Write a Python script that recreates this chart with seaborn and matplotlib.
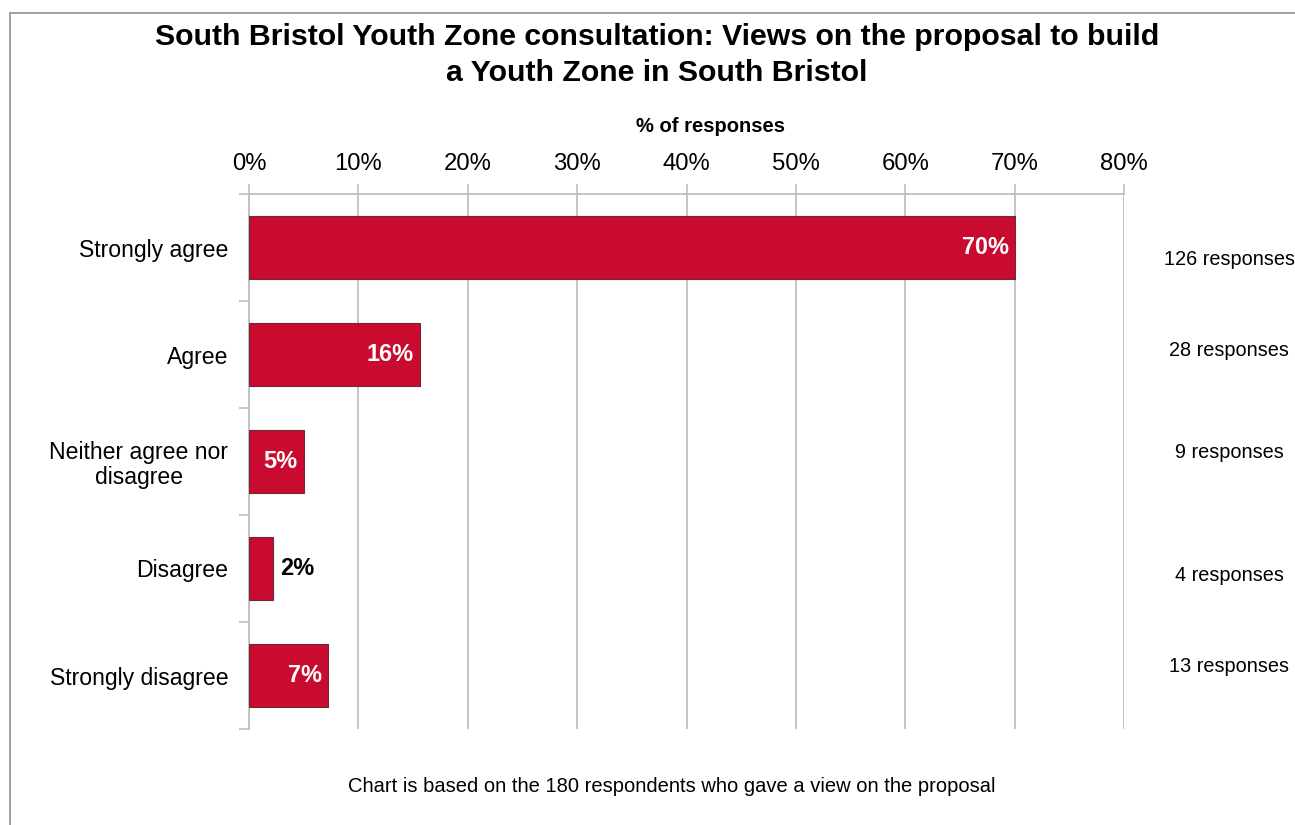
import matplotlib
matplotlib.use("Agg")
import matplotlib.pyplot as plt
from matplotlib.patches import Rectangle
from matplotlib.ticker import FixedLocator, PercentFormatter
import seaborn as sns
import pandas as pd

# Survey results
categories = ["Strongly agree", "Agree", "Neither agree nor\ndisagree",
              "Disagree", "Strongly disagree"]
responses = [126, 28, 9, 4, 13]
percent = [70.0, 15.6, 5.0, 2.2, 7.2]
total_respondents = 180

# Vertical nudges for the response-count notes (in category units)
note_offsets = [0.11, -0.04, -0.08, 0.07, -0.08]

sns.set_theme(style="white")
plt.rcParams["font.family"] = ["Liberation Sans", "DejaVu Sans"]
plt.rcParams["text.color"] = "black"

BAR = "#C90B30"
GRID = "#BFBFBF"

df = pd.DataFrame({"category": categories, "percent": percent})

fig = plt.figure(figsize=(12.95, 8.25), dpi=100)
ax = fig.add_axes([249 / 1295, 1 - 729 / 825, 875 / 1295, 535 / 825])

sns.barplot(data=df, x="percent", y="category", color=BAR, width=0.59,
            edgecolor="#6e2a34", linewidth=0.8, saturation=1, ax=ax, zorder=3)

ax.set_xlim(0, 80)
ax.set_ylim(len(categories) - 0.5, -0.5)
ax.xaxis.tick_top()
ax.set_xticks(range(0, 81, 10))
ax.xaxis.set_major_formatter(PercentFormatter(decimals=0))
ax.tick_params(axis="x", length=7, width=1.2, color=GRID, pad=7,
               labelsize=17.2, labelcolor="black")
ax.grid(axis="x", color=GRID, linewidth=1.3, zorder=0)
ax.grid(axis="y", visible=False)

# category boundaries carry the tick marks, labels sit at the centres
ax.yaxis.set_minor_locator(FixedLocator([i - 0.5 for i in range(len(categories) + 1)]))
ax.tick_params(axis="y", which="minor", length=7, width=1.2, color=GRID, left=True)
ax.tick_params(axis="y", which="major", length=0, pad=15, labelsize=16.6,
               labelcolor="black")
for lab in ax.get_yticklabels():
    lab.set_multialignment("center")
    lab.set_linespacing(1.12)

ax.set_xlabel("")
ax.set_ylabel("")
for side in ["right", "bottom"]:
    ax.spines[side].set_visible(False)
for side in ["top", "left"]:
    ax.spines[side].set_color(GRID)
    ax.spines[side].set_linewidth(1.3)

# value labels on bars
for i, v in enumerate(percent):
    txt = f"{v:.0f}%"
    if v >= 4:
        ax.text(v - 0.55, i, txt, ha="right", va="center", color="white",
                fontsize=16.9, fontweight="bold", zorder=4)
    else:
        ax.text(v + 0.65, i, txt, ha="left", va="center", color="black",
                fontsize=16.9, fontweight="bold", zorder=4)

# response counts beside the plot
for i, (n, off) in enumerate(zip(responses, note_offsets)):
    ax.text(89.6, i + off, f"{n} responses", ha="center", va="center",
            fontsize=14.3, color="black", clip_on=False)

fig.text(657 / 1295, 1 - 55 / 825,
         "South Bristol Youth Zone consultation: Views on the proposal to build\n"
         "a Youth Zone in South Bristol",
         ha="center", va="center", fontsize=21.8, fontweight="bold",
         linespacing=1.38)
fig.text(710 / 1295, 1 - 127 / 825, "% of responses", ha="center", va="center",
         fontsize=14.5, fontweight="bold")
fig.text(672 / 1295, 1 - 786 / 825,
         f"Chart is based on the {total_respondents} respondents who gave a view on the proposal",
         ha="center", va="center", fontsize=14.5, color="black")

# outer frame
fig.patches.append(Rectangle((10 / 1295, -0.1), 1.2, 1 - 13 / 825 + 0.1,
                             transform=fig.transFigure, fill=False,
                             edgecolor="#9a9a9a", linewidth=1.3))

fig.savefig("out.png", dpi=100)
